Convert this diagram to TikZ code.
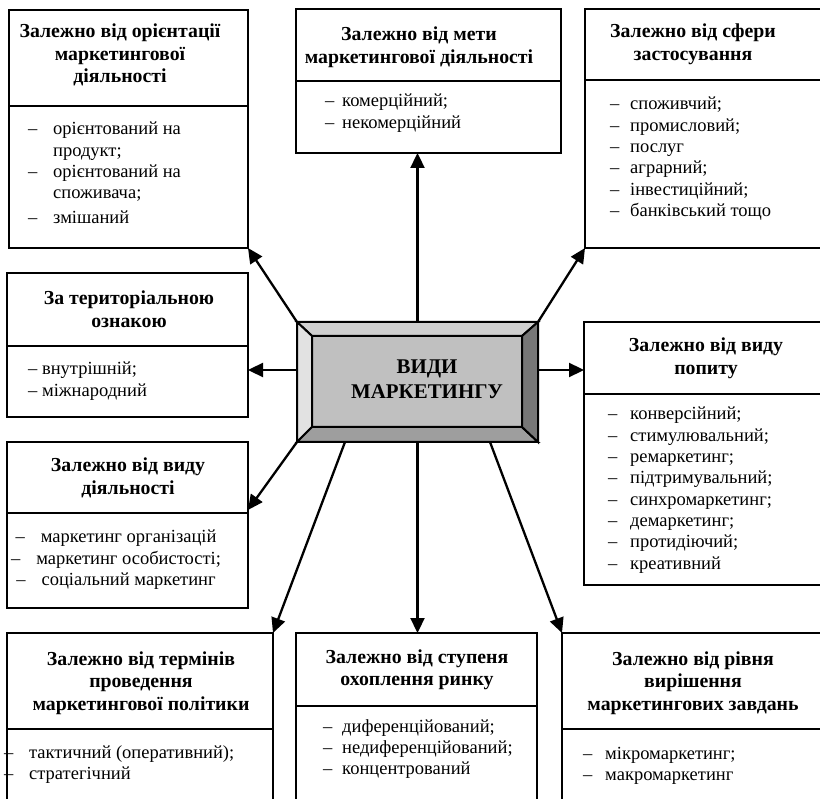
\documentclass[tikz,border=0pt]{standalone}
\usepackage{fontspec}
\setmainfont{Liberation Serif}
\usetikzlibrary{arrows.meta}
\newcommand\itm[2]{\makebox[#1][l]{–}#2}
\newcommand\hdfont{\fontsize{19.8}{22.5}\selectfont\bfseries}
\newcommand\bdfont{\fontsize{18.5}{21.3}\selectfont}
\definecolor{face}{HTML}{C0C0C0}
\definecolor{bvtop}{HTML}{CFCFCF}
\definecolor{bvleft}{HTML}{E2E2E2}
\definecolor{bvbot}{HTML}{9E9E9E}
\definecolor{bvright}{HTML}{777777}
\begin{document}
\begin{tikzpicture}[x=1pt,y=-1pt,
  box/.style={draw, line width=2pt, fill=white, inner sep=0, outer sep=0, anchor=north west},
  divl/.style={line width=2pt},
  arr/.style={line width=2.3pt, -{Triangle[length=15pt,width=14pt]}},
  hdr/.style={anchor=base, inner sep=0, font=\hdfont},
  bdy/.style={anchor=base west, inner sep=0, font=\bdfont},
  bev/.style={line width=2pt, line join=miter}]
\useasboundingbox (0,0) rectangle (820,799);
\clip (0,0) rectangle (820,799);

% boxes
\node[box, minimum width=239, minimum height=238] (b1) at (9,10) {};
\node[box, minimum width=265, minimum height=144] (b2) at (296,9) {};
\node[box, minimum width=250, minimum height=239] (b3) at (585,9) {};
\node[box, minimum width=241, minimum height=144] (b4) at (7,273) {};
\node[box, minimum width=241, minimum height=166] (b5) at (7,442) {};
\node[box, minimum width=250, minimum height=263] (b6) at (584,322) {};
\node[box, minimum width=266, minimum height=200] (b7) at (7,633) {};
\node[box, minimum width=241, minimum height=200] (b8) at (296,633) {};
\node[box, minimum width=270, minimum height=200] (b9) at (562,633) {};

% dividers
\draw[divl] (b1.west |- 0,106) -- (b1.east |- 0,106);
\draw[divl] (b2.west |- 0,81) -- (b2.east |- 0,81);
\draw[divl] (b3.west |- 0,80) -- (b3.east |- 0,80);
\draw[divl] (b4.west |- 0,346) -- (b4.east |- 0,346);
\draw[divl] (b5.west |- 0,513) -- (b5.east |- 0,513);
\draw[divl] (b6.west |- 0,394) -- (b6.east |- 0,394);
\draw[divl] (b7.west |- 0,729) -- (b7.east |- 0,729);
\draw[divl] (b8.west |- 0,706) -- (b8.east |- 0,706);
\draw[divl] (b9.west |- 0,729) -- (b9.east |- 0,729);

% headers
\node[hdr] (h1) at (120,38) {\begin{tabular}[t]{@{}c@{}}Залежно від орієнтації\\маркетингової\\діяльності\end{tabular}};
\node[hdr] (h2) at (419,41) {\begin{tabular}[t]{@{}c@{}}Залежно від мети\\маркетингової діяльності\end{tabular}};
\node[hdr] (h3) at (693,38) {\begin{tabular}[t]{@{}c@{}}Залежно від сфери\\застосування\end{tabular}};
\node[hdr] (h4) at (129,305) {\begin{tabular}[t]{@{}c@{}}За територіальною\\ознакою\end{tabular}};
\node[hdr] (h5) at (128,472) {\begin{tabular}[t]{@{}c@{}}Залежно від виду\\діяльності\end{tabular}};
\node[hdr] (h6) at (706,352) {\begin{tabular}[t]{@{}c@{}}Залежно від виду\\попиту\end{tabular}};
\node[hdr] (h7) at (141,665) {\begin{tabular}[t]{@{}c@{}}Залежно від термінів\\проведення\\маркетингової політики\end{tabular}};
\node[hdr] (h8) at (417,663) {\begin{tabular}[t]{@{}c@{}}Залежно від ступеня\\охоплення ринку\end{tabular}};
\node[hdr] (h9) at (693,665) {\begin{tabular}[t]{@{}c@{}}Залежно від рівня\\вирішення\\маркетингових завдань\end{tabular}};

% bodies
\node[bdy] (t1) at (28,135) {\begin{tabular}[t]{@{}l@{}}\itm{25pt}{орієнтований на}\\\hspace*{25pt}продукт;\\\itm{25pt}{орієнтований на}\\\hspace*{25pt}споживача;\\[3pt]\itm{25pt}{змішаний}\end{tabular}};
\node[bdy] (t2) at (325,107) {\begin{tabular}[t]{@{}l@{}}\itm{17pt}{комерційний;}\\\itm{17pt}{некомерційний}\end{tabular}};
\node[bdy] (t3) at (610,110) {\begin{tabular}[t]{@{}l@{}}\itm{20pt}{споживчий;}\\\itm{20pt}{промисловий;}\\\itm{20pt}{послуг}\\\itm{20pt}{аграрний;}\\\itm{20pt}{інвестиційний;}\\\itm{20pt}{банківський тощо}\end{tabular}};
\node[bdy] (t4) at (28,375) {\begin{tabular}[t]{@{}l@{}}– внутрішній;\\– міжнародний\end{tabular}};
\node[bdy, anchor=base] (t5) at (116,543) {\begin{tabular}[t]{@{}c@{}}–\hspace{16pt}маркетинг організацій\\–\hspace{16pt}маркетинг особистості;\\–\hspace{16pt}соціальний маркетинг\end{tabular}};
\node[bdy] (t6) at (608,420) {\begin{tabular}[t]{@{}l@{}}\itm{22pt}{конверсійний;}\\\itm{22pt}{стимулювальний;}\\\itm{22pt}{ремаркетинг;}\\\itm{22pt}{підтримувальний;}\\\itm{22pt}{синхромаркетинг;}\\\itm{22pt}{демаркетинг;}\\\itm{22pt}{протидіючий;}\\\itm{22pt}{креативний}\end{tabular}};
\node[bdy] (t7) at (4,758) {\begin{tabular}[t]{@{}l@{}}\itm{25pt}{тактичний (оперативний);}\\\itm{25pt}{стратегічний}\end{tabular}};
\node[bdy] (t8) at (323,732) {\begin{tabular}[t]{@{}l@{}}\itm{19pt}{диференційований;}\\\itm{19pt}{недиференційований;}\\\itm{19pt}{концентрований}\end{tabular}};
\node[bdy] (t9) at (583,759) {\begin{tabular}[t]{@{}l@{}}\itm{22pt}{мікромаркетинг;}\\\itm{22pt}{макромаркетинг}\end{tabular}};

% central box
\node[inner sep=0, outer sep=0, minimum width=241, minimum height=120] (c) at (417.5,382) {};
\coordinate (s7) at (345,442);
\coordinate (s9) at (490,442);
\coordinate (t5e) at (248,510);

\draw[arr] (c.north west) -- (b1.south east);
\draw[arr] (c.north) -- (c.north |- b2.south);
\draw[arr] (c.north east) -- (b3.south west);
\draw[arr] ([yshift=12pt]c.west) -- ([yshift=12pt]c.west -| b4.east);
\draw[arr] ([yshift=12pt]c.east) -- ([yshift=12pt]c.east -| b6.west);
\draw[arr] (c.south west) -- (t5e);
\draw[arr] (s7) -- (b7.north east);
\draw[arr] (c.south) -- (c.south |- b8.north);
\draw[arr] (s9) -- (b9.north west);

\fill[face] (312,336) rectangle (522,427);
\draw[bev, fill=bvtop] (297,322) -- (538,322) -- (522,336) -- (312,336) -- cycle;
\draw[bev, fill=bvleft] (297,322) -- (312,336) -- (312,427) -- (297,442) -- cycle;
\draw[bev, fill=bvbot] (297,442) -- (312,427) -- (522,427) -- (538,442) -- cycle;
\draw[bev, fill=bvright] (538,322) -- (538,442) -- (522,427) -- (522,336) -- cycle;
\draw[bev] (312,336) rectangle (522,427);
\draw[bev] (297,322) rectangle (538,442);
\node[anchor=base, inner sep=0, font=\fontsize{20.9}{25}\selectfont\bfseries] (ct) at (427,374) {\begin{tabular}[t]{@{}c@{}}ВИДИ\\МАРКЕТИНГУ\end{tabular}};
\end{tikzpicture}
\end{document}
